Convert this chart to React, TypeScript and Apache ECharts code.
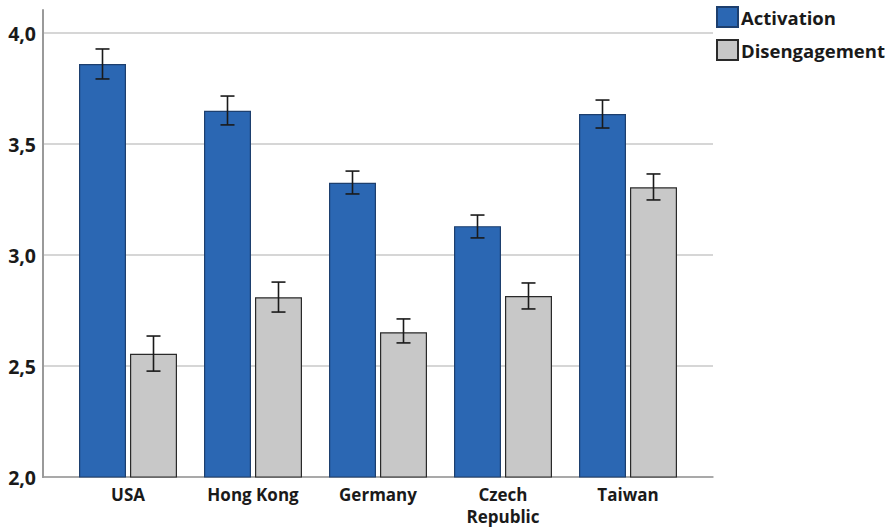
import React, { useEffect, useRef } from "react";
import * as echarts from "echarts";

const countries = ["USA", "Hong Kong", "Germany", "Czech\nRepublic", "Taiwan"];
const seriesNames = ["Activation", "Disengagement"];

const activation = [3.86, 3.65, 3.325, 3.13, 3.635];
const activationLow = [3.793, 3.586, 3.275, 3.077, 3.572];
const activationHigh = [3.928, 3.716, 3.378, 3.18, 3.698];

const disengagement = [2.555, 2.81, 2.652, 2.815, 3.305];
const disengagementLow = [2.477, 2.743, 2.604, 2.757, 3.248];
const disengagementHigh = [2.635, 2.878, 2.712, 2.874, 3.365];

const yTicks = [2.0, 2.5, 3.0, 3.5, 4.0];

const BLUE = "#2b67b3";
const GREY = "#c8c8c8";
const FONT = "'Open Sans', Lato, sans-serif";
const BAR_W = 47;
const HALF_STEP = 25.5;

function errorSeries(name: string, low: number[], high: number[], offset: number) {
  return {
    type: "custom",
    name: name + " CI",
    xAxisIndex: 1,
    yAxisIndex: 1,
    silent: true,
    z: 10,
    data: low.map((l, i) => [i, l, high[i]]),
    renderItem: (params: any, api: any) => {
      const lo = api.coord([api.value(0), api.value(1)]);
      const hi = api.coord([api.value(0), api.value(2)]);
      const x = lo[0] + offset;
      const cap = 7;
      const style = { stroke: "#1a1a1a", lineWidth: 1.6 };
      return {
        type: "group",
        children: [
          { type: "line", shape: { x1: x, y1: lo[1], x2: x, y2: hi[1] }, style },
          { type: "line", shape: { x1: x - cap, y1: lo[1], x2: x + cap, y2: lo[1] }, style },
          { type: "line", shape: { x1: x - cap, y1: hi[1], x2: x + cap, y2: hi[1] }, style },
        ],
      };
    },
  };
}

export default function App() {
  const ref = useRef<HTMLDivElement>(null);

  useEffect(() => {
    if (!ref.current) return;
    const chart = echarts.init(ref.current, undefined, { renderer: "svg" });
    chart.setOption({
      animation: false,
      backgroundColor: "#ffffff",
      textStyle: { fontFamily: FONT },
      legend: {
        data: seriesNames,
        orient: "vertical",
        left: 711,
        top: 1,
        itemWidth: 21,
        itemHeight: 20,
        itemGap: 11,
        icon: "rect",
        textStyle: {
          fontFamily: FONT,
          fontWeight: "bold",
          fontSize: 18.5,
          lineHeight: 20,
          color: "#1a1a1a",
          padding: [0, 0, 0, -2],
        },
      },
      grid: [
        { left: 43, right: 183, top: 33, bottom: 52 },
        { left: 65.5, right: 205.5, top: 33, bottom: 52 },
        { left: 43, width: 1, top: 10, bottom: 52 },
      ],
      xAxis: [
        {
          type: "category",
          gridIndex: 0,
          data: countries,
          axisLine: { lineStyle: { color: "#9a9a9a", width: 1.5 } },
          axisTick: { show: false },
          axisLabel: { show: false },
        },
        {
          type: "category",
          gridIndex: 1,
          data: countries,
          axisLine: { show: false },
          axisTick: { show: false },
          axisLabel: {
            margin: 6,
            fontFamily: FONT,
            fontWeight: "bold",
            fontSize: 17,
            color: "#1a1a1a",
            lineHeight: 22,
            verticalAlign: "top",
          },
        },
        { type: "category", gridIndex: 2, data: ["x"], show: false },
      ],
      yAxis: [
        {
          type: "value",
          gridIndex: 0,
          min: yTicks[0],
          max: yTicks[yTicks.length - 1],
          interval: 0.5,
          axisLine: { show: true, lineStyle: { color: "#9a9a9a", width: 2 } },
          axisTick: { show: false },
          splitLine: { lineStyle: { color: "#c8c8c8", width: 1.5 } },
          axisLabel: {
            margin: 7,
            fontFamily: FONT,
            fontWeight: "bold",
            fontSize: 19.5,
            color: "#1a1a1a",
            formatter: (v: number) => v.toFixed(1).replace(".", ","),
          },
        },
        {
          type: "value",
          gridIndex: 1,
          min: yTicks[0],
          max: yTicks[yTicks.length - 1],
          show: false,
          splitLine: { show: false },
        },
        {
          type: "value",
          gridIndex: 2,
          min: 2,
          max: 4.1036,
          axisLine: { show: true, lineStyle: { color: "#9a9a9a", width: 2 } },
          axisTick: { show: false },
          axisLabel: { show: false },
          splitLine: { show: false },
        },
      ],
      series: [
        {
          type: "bar",
          name: seriesNames[0],
          xAxisIndex: 1,
          yAxisIndex: 1,
          data: activation,
          barWidth: BAR_W,
          barGap: "8.5%",
          itemStyle: { color: BLUE, borderColor: "#1d3f6e", borderWidth: 1.2 },
        },
        {
          type: "bar",
          name: seriesNames[1],
          xAxisIndex: 1,
          yAxisIndex: 1,
          data: disengagement,
          barWidth: BAR_W,
          barGap: "8.5%",
          itemStyle: { color: GREY, borderColor: "#2a2a2a", borderWidth: 1.2 },
        },
        errorSeries(seriesNames[0], activationLow, activationHigh, -HALF_STEP),
        errorSeries(seriesNames[1], disengagementLow, disengagementHigh, HALF_STEP),
      ],
    });
    return () => chart.dispose();
  }, []);

  return <div ref={ref} style={{ width: 896, height: 529, position: "absolute", left: 0, top: 0 }} />;
}
